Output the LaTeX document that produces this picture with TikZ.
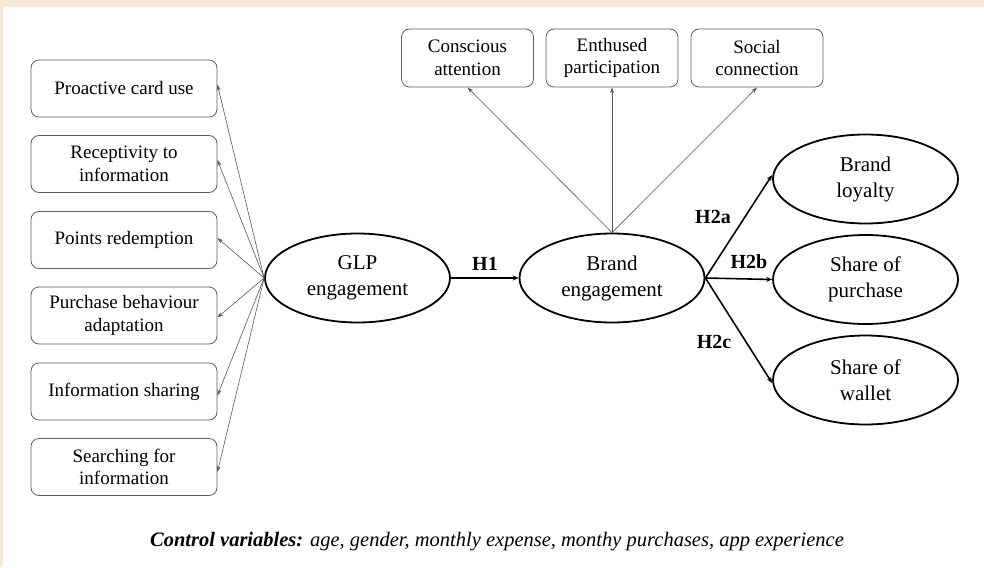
\documentclass[tikz,border=0pt]{standalone}
\usepackage{fontspec}
\setmainfont{Liberation Serif}
\usetikzlibrary{arrows.meta,shapes.geometric}
\definecolor{beige}{RGB}{245,233,212}
\definecolor{boxgray}{RGB}{95,95,95}
\begin{document}
\begin{tikzpicture}[x=1pt,y=-1pt,
  txt/.style={font=\fontsize{19}{22.5}\selectfont, align=center},
  sqbox/.style={txt, draw=boxgray, line width=0.8pt, rounded corners=8pt, minimum width=186pt, minimum height=57pt, inner sep=2pt},
  topbox/.style={txt, draw=boxgray, line width=0.8pt, rounded corners=8pt, minimum width=132pt, minimum height=58pt, inner sep=2pt},
  lat/.style={font=\fontsize{21}{26}\selectfont, align=center, draw=black, line width=1.8pt, ellipse, minimum width=185pt, minimum height=89pt, inner sep=0pt},
  thin/.style={draw=black!65, line width=0.6pt, -{Stealth[length=6pt,width=4pt]}},
  thick/.style={draw=black, line width=1.6pt, -{Stealth[length=6pt,width=5pt]}},
  hlab/.style={font=\fontsize{20}{22}\selectfont\bfseries}
]
\useasboundingbox (0,0) rectangle (984,567);
\fill[white] (0,0) rectangle (984,567);
\fill[beige] (0,0) rectangle (984,7);
\fill[beige] (0,0) rectangle (2.5,567);

% left boxes
\node[sqbox] (b1) at (124,88.5) {Proactive card use};
\node[sqbox] (b2) at (124,164) {Receptivity to\\information};
\node[sqbox] (b3) at (124,240) {Points redemption};
\node[sqbox] (b4) at (124,315.5) {Purchase behaviour\\adaptation};
\node[sqbox] (b5) at (124,391.5) {Information sharing};
\node[sqbox] (b6) at (124,467) {Searching for\\information};

% top boxes
\node[topbox] (t1) at (467.5,58) {Conscious\\attention};
\node[topbox] (t2) at (612,58) {Enthused\\participation};
\node[topbox] (t3) at (757,58) {Social\\connection};

% ellipses
\node[lat] (glp) at (357.5,278) {GLP\\engagement};
\node[lat] (be) at (612,278) {Brand\\engagement};
\node[lat] (bl) at (865.5,179) {Brand\\loyalty};
\node[lat] (sp) at (865.5,279.5) {Share of\\purchase};
\node[lat] (sw) at (865.5,380) {Share of\\wallet};

% left arrows
\draw[thin] (glp.west) -- ([yshift=4pt]b1.east);
\draw[thin] (glp.west) -- ([yshift=4pt]b2.east);
\draw[thin] (glp.west) -- ([yshift=2pt]b3.east);
\draw[thin] (glp.west) -- ([yshift=-2pt]b4.east);
\draw[thin] (glp.west) -- ([yshift=-4pt]b5.east);
\draw[thin] (glp.west) -- ([yshift=-5pt]b6.east);

% top arrows
\draw[thin] (be.north) -- (t1.south);
\draw[thin] (be.north) -- (t2.south);
\draw[thin] (be.north) -- (t3.south);

% hypotheses
\draw[thick] (glp.east) -- (be.west);
\node[hlab] (h1) at (485,264) {H1};
\draw[thick] (be.east) -- ([yshift=4pt]bl.west);
\draw[thick] (be.east) -- (sp.west);
\draw[thick] (be.east) -- ([yshift=-3pt]sw.west);
\node[hlab] (h2a) at (713,217) {H2a};
\node[hlab] (h2b) at (749,262) {H2b};
\node[hlab] (h2c) at (714,342) {H2c};

% caption
\node[font=\fontsize{20.5}{23}\selectfont\itshape] (cap) at (497,542) {\textbf{Control variables:} age, gender, monthly expense, monthy purchases, app experience};
\end{tikzpicture}
\end{document}
